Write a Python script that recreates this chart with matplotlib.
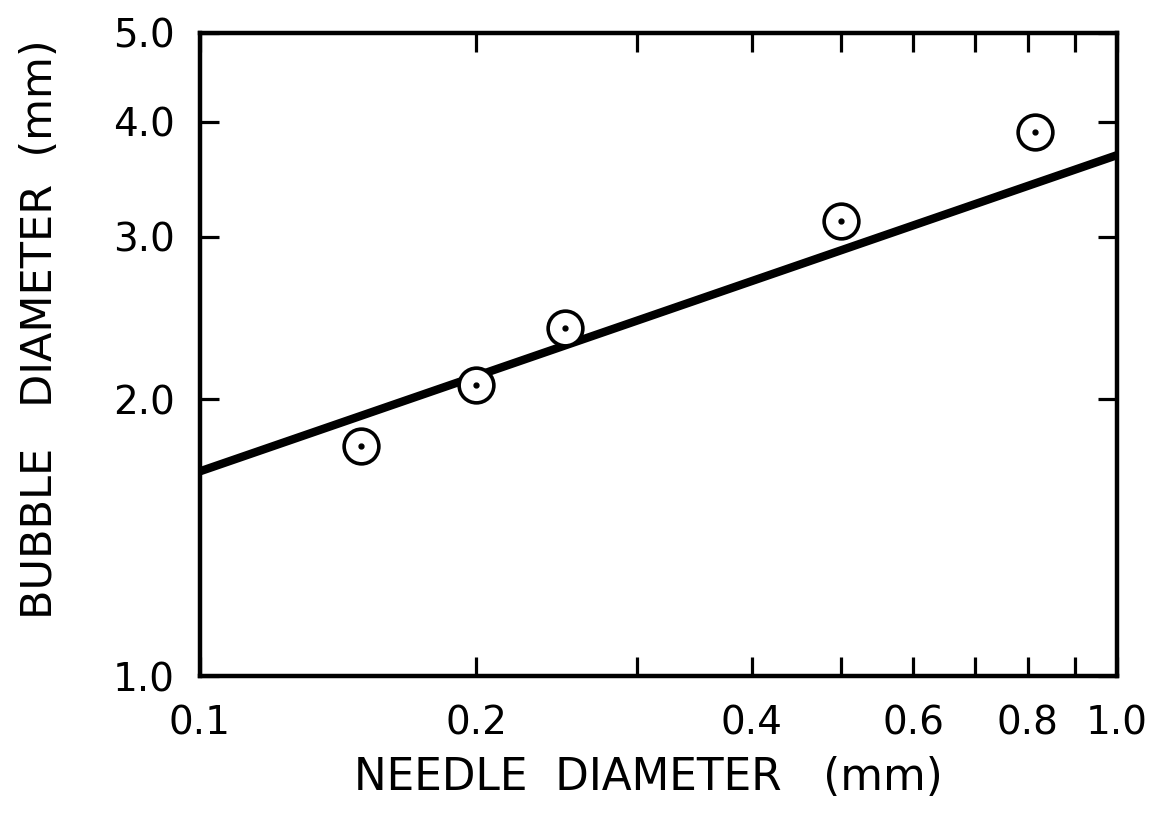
import numpy as np
import matplotlib.pyplot as plt

# data
needle_d = [0.15, 0.20, 0.25, 0.50, 0.815]
bubble_d = [1.78, 2.07, 2.39, 3.12, 3.90]

# fitted line end points
fit_x = [0.1, 1.0]
fit_y = [1.67, 3.68]

x_ticks = [0.1, 0.2, 0.3, 0.4, 0.5, 0.6, 0.7, 0.8, 0.9, 1.0]
x_labels = ["0.1", "0.2", "", "0.4", "", "0.6", "", "0.8", "", "1.0"]
y_ticks = [1.0, 2.0, 3.0, 4.0, 5.0]
y_labels = ["1.0", "2.0", "3.0", "4.0", "5.0"]

plt.rcParams['font.family'] = ['DejaVu Sans']

fig = plt.figure(figsize=(11.56, 8.16), dpi=100)
ax = fig.add_axes([0.173, 0.171, 0.793, 0.789])

ax.plot(fit_x, fit_y, color='black', lw=6, solid_capstyle='butt')
ax.plot(needle_d, bubble_d, 'o', ms=25, mfc='white', mec='black', mew=2.6)
ax.plot(needle_d, bubble_d, 'o', ms=3.5, color='black')

ax.set_xscale('log')
ax.set_yscale('log')
ax.set_xlim(0.1, 1.0)
ax.set_ylim(1.0, 5.0)

ax.xaxis.set_minor_locator(plt.NullLocator())
ax.yaxis.set_minor_locator(plt.NullLocator())
ax.set_xticks(x_ticks)
ax.set_xticklabels(x_labels)
ax.set_yticks(y_ticks)
ax.set_yticklabels(y_labels)

ax.tick_params(direction='in', length=14, width=2.3,
               top=True, right=True)
ax.tick_params(axis='x', labelsize=28, pad=20)
ax.tick_params(axis='y', labelsize=28, pad=18)

for s in ax.spines.values():
    s.set_linewidth(3.2)

ax.set_xlabel("NEEDLE  DIAMETER   (mm)", fontsize=31.5)
ax.set_ylabel("BUBBLE   DIAMETER  (mm)", fontsize=31)
ax.xaxis.set_label_coords(0.489, -0.123)
ax.yaxis.set_label_coords(-0.152, 0.54)

fig.savefig("out.png", dpi=100)
